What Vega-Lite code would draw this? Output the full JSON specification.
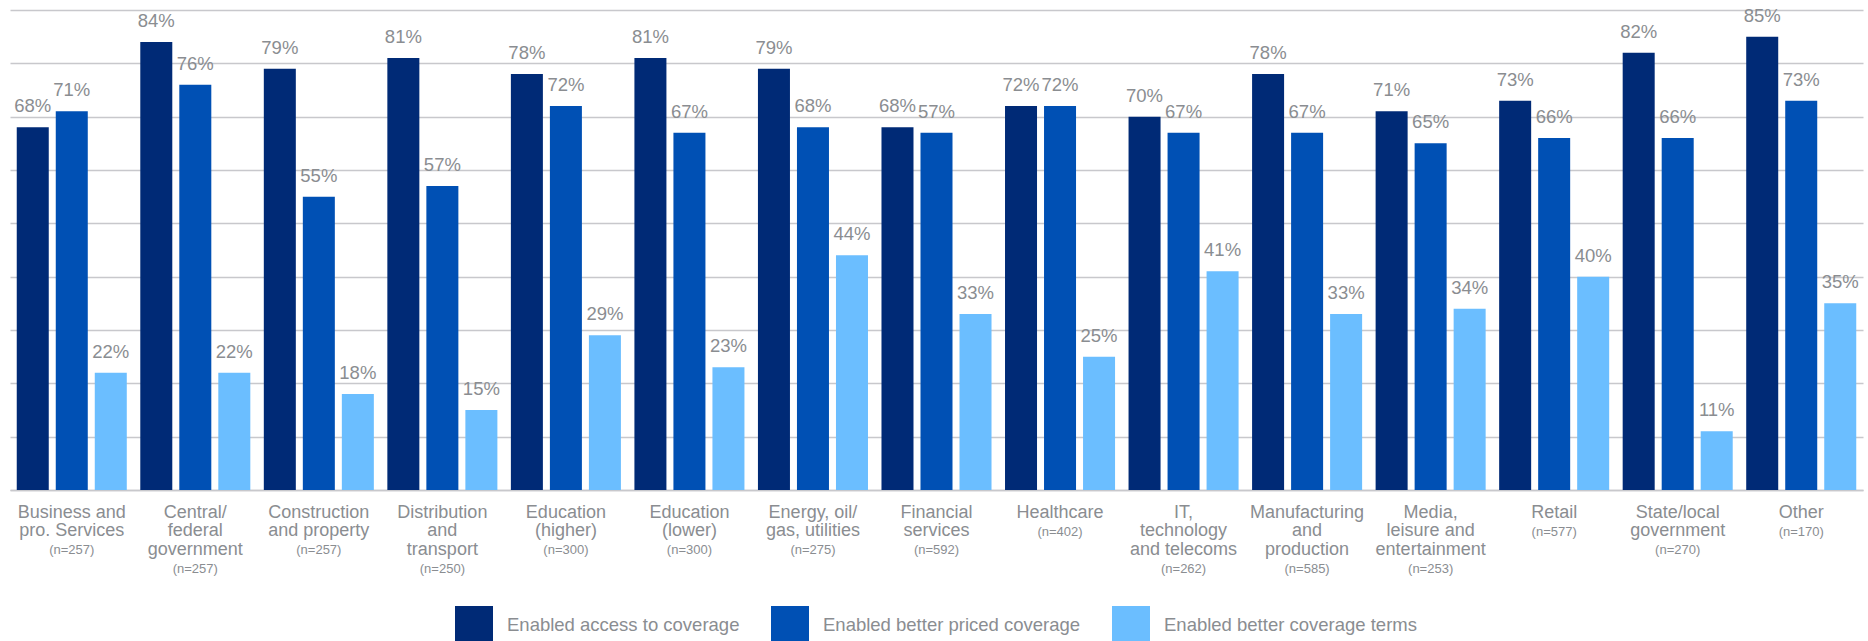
{
  "$schema": "https://vega.github.io/schema/vega-lite/v6.json",
  "width": 1853,
  "height": 480,
  "autosize": {"type": "none"},
  "padding": {"left": 10, "top": 10, "right": 5, "bottom": 151},
  "background": "white",
  "config": {
    "view": {"stroke": null},
    "font": "Liberation Sans",
    "legend": {
      "orient": "none",
      "legendX": 445,
      "legendY": 596,
      "direction": "horizontal",
      "padding": 0,
      "symbolType": "square",
      "symbolSize": 1444,
      "symbolStrokeWidth": 0,
      "symbolOpacity": 1,
      "labelFontSize": 18.5,
      "labelColor": "#8a8d91",
      "labelOffset": 14,
      "columnPadding": 31,
      "labelLimit": 400
    }
  },
  "data": {
    "values": [
      {"industry": "Business and|pro. Services|(n=257)", "series": "Enabled access to coverage", "value": 68, "label": "68%"},
      {"industry": "Business and|pro. Services|(n=257)", "series": "Enabled better priced coverage", "value": 71, "label": "71%"},
      {"industry": "Business and|pro. Services|(n=257)", "series": "Enabled better coverage terms", "value": 22, "label": "22%"},
      {"industry": "Central/|federal|government|(n=257)", "series": "Enabled access to coverage", "value": 84, "label": "84%"},
      {"industry": "Central/|federal|government|(n=257)", "series": "Enabled better priced coverage", "value": 76, "label": "76%"},
      {"industry": "Central/|federal|government|(n=257)", "series": "Enabled better coverage terms", "value": 22, "label": "22%"},
      {"industry": "Construction|and property|(n=257)", "series": "Enabled access to coverage", "value": 79, "label": "79%"},
      {"industry": "Construction|and property|(n=257)", "series": "Enabled better priced coverage", "value": 55, "label": "55%"},
      {"industry": "Construction|and property|(n=257)", "series": "Enabled better coverage terms", "value": 18, "label": "18%"},
      {"industry": "Distribution|and|transport|(n=250)", "series": "Enabled access to coverage", "value": 81, "label": "81%"},
      {"industry": "Distribution|and|transport|(n=250)", "series": "Enabled better priced coverage", "value": 57, "label": "57%"},
      {"industry": "Distribution|and|transport|(n=250)", "series": "Enabled better coverage terms", "value": 15, "label": "15%"},
      {"industry": "Education|(higher)|(n=300)", "series": "Enabled access to coverage", "value": 78, "label": "78%"},
      {"industry": "Education|(higher)|(n=300)", "series": "Enabled better priced coverage", "value": 72, "label": "72%"},
      {"industry": "Education|(higher)|(n=300)", "series": "Enabled better coverage terms", "value": 29, "label": "29%"},
      {"industry": "Education|(lower)|(n=300)", "series": "Enabled access to coverage", "value": 81, "label": "81%"},
      {"industry": "Education|(lower)|(n=300)", "series": "Enabled better priced coverage", "value": 67, "label": "67%"},
      {"industry": "Education|(lower)|(n=300)", "series": "Enabled better coverage terms", "value": 23, "label": "23%"},
      {"industry": "Energy, oil/|gas, utilities|(n=275)", "series": "Enabled access to coverage", "value": 79, "label": "79%"},
      {"industry": "Energy, oil/|gas, utilities|(n=275)", "series": "Enabled better priced coverage", "value": 68, "label": "68%"},
      {"industry": "Energy, oil/|gas, utilities|(n=275)", "series": "Enabled better coverage terms", "value": 44, "label": "44%"},
      {"industry": "Financial|services|(n=592)", "series": "Enabled access to coverage", "value": 68, "label": "68%"},
      {"industry": "Financial|services|(n=592)", "series": "Enabled better priced coverage", "value": 67, "label": "57%"},
      {"industry": "Financial|services|(n=592)", "series": "Enabled better coverage terms", "value": 33, "label": "33%"},
      {"industry": "Healthcare|(n=402)", "series": "Enabled access to coverage", "value": 72, "label": "72%"},
      {"industry": "Healthcare|(n=402)", "series": "Enabled better priced coverage", "value": 72, "label": "72%"},
      {"industry": "Healthcare|(n=402)", "series": "Enabled better coverage terms", "value": 25, "label": "25%"},
      {"industry": "IT,|technology|and telecoms|(n=262)", "series": "Enabled access to coverage", "value": 70, "label": "70%"},
      {"industry": "IT,|technology|and telecoms|(n=262)", "series": "Enabled better priced coverage", "value": 67, "label": "67%"},
      {"industry": "IT,|technology|and telecoms|(n=262)", "series": "Enabled better coverage terms", "value": 41, "label": "41%"},
      {"industry": "Manufacturing|and|production|(n=585)", "series": "Enabled access to coverage", "value": 78, "label": "78%"},
      {"industry": "Manufacturing|and|production|(n=585)", "series": "Enabled better priced coverage", "value": 67, "label": "67%"},
      {"industry": "Manufacturing|and|production|(n=585)", "series": "Enabled better coverage terms", "value": 33, "label": "33%"},
      {"industry": "Media,|leisure and|entertainment|(n=253)", "series": "Enabled access to coverage", "value": 71, "label": "71%"},
      {"industry": "Media,|leisure and|entertainment|(n=253)", "series": "Enabled better priced coverage", "value": 65, "label": "65%"},
      {"industry": "Media,|leisure and|entertainment|(n=253)", "series": "Enabled better coverage terms", "value": 34, "label": "34%"},
      {"industry": "Retail|(n=577)", "series": "Enabled access to coverage", "value": 73, "label": "73%"},
      {"industry": "Retail|(n=577)", "series": "Enabled better priced coverage", "value": 66, "label": "66%"},
      {"industry": "Retail|(n=577)", "series": "Enabled better coverage terms", "value": 40, "label": "40%"},
      {"industry": "State/local|government|(n=270)", "series": "Enabled access to coverage", "value": 82, "label": "82%"},
      {"industry": "State/local|government|(n=270)", "series": "Enabled better priced coverage", "value": 66, "label": "66%"},
      {"industry": "State/local|government|(n=270)", "series": "Enabled better coverage terms", "value": 11, "label": "11%"},
      {"industry": "Other|(n=170)", "series": "Enabled access to coverage", "value": 85, "label": "85%"},
      {"industry": "Other|(n=170)", "series": "Enabled better priced coverage", "value": 73, "label": "73%"},
      {"industry": "Other|(n=170)", "series": "Enabled better coverage terms", "value": 35, "label": "35%"}
    ]
  },
  "encoding": {
    "xOffset": {
      "field": "series",
      "type": "nominal",
      "sort": ["Enabled access to coverage", "Enabled better priced coverage", "Enabled better coverage terms"],
      "scale": {"paddingInner": 0.1795, "paddingOuter": 0.173}
    },
    "y": {
      "field": "value",
      "type": "quantitative",
      "scale": {"domain": [0, 90], "nice": false},
      "axis": {
        "title": null,
        "labels": false,
        "ticks": false,
        "domain": false,
        "grid": true,
        "values": [0, 10, 20, 30, 40, 50, 60, 70, 80, 90],
        "gridColor": "#c8c8cc",
        "gridWidth": 1.5
      }
    }
  },
  "layer": [
    {
      "mark": {"type": "bar"},
      "encoding": {
        "x": {
          "field": "industry",
          "type": "nominal",
          "sort": null,
          "scale": {"paddingInner": 0, "paddingOuter": 0},
          "axis": {
            "title": null,
            "orient": "bottom",
            "labelAngle": 0,
            "ticks": false,
            "tickSize": 0,
            "grid": false,
            "domain": true,
            "domainColor": "#c8c8cc",
            "domainWidth": 1.5,
            "labelFontSize": 18,
            "labelLineHeight": 18.5,
            "labelColor": "#8a8d91",
            "labelPadding": 13,
            "labelOverlap": false,
            "labelLimit": 300,
            "labelExpr": "slice(split(datum.label, '|'), 0, -1)"
          }
        },
        "color": {
          "field": "series",
          "type": "nominal",
          "title": null,
          "sort": ["Enabled access to coverage", "Enabled better priced coverage", "Enabled better coverage terms"],
          "scale": {
            "domain": ["Enabled access to coverage", "Enabled better priced coverage", "Enabled better coverage terms"],
            "range": ["#002a76", "#0050b4", "#6bbeff"]
          }
        }
      }
    },
    {
      "mark": {"type": "text", "baseline": "alphabetic", "align": "center", "dy": -15, "fontSize": 18.5, "color": "#8a8d91"},
      "encoding": {
        "x": {
          "field": "industry",
          "type": "nominal",
          "sort": null,
          "scale": {"paddingInner": 0, "paddingOuter": 0},
          "axis": {
            "title": null,
            "orient": "bottom",
            "labelAngle": 0,
            "ticks": false,
            "tickSize": 0,
            "grid": false,
            "domain": false,
            "labelFontSize": 13,
            "labelColor": "#8a8d91",
            "labelPadding": {
              "condition": [
                {"test": "length(split(datum.label, '|')) == 2", "value": 35},
                {"test": "length(split(datum.label, '|')) == 3", "value": 53.5}
              ],
              "value": 72
            },
            "labelOverlap": false,
            "labelLimit": 300,
            "labelExpr": "peek(split(datum.label, '|'))"
          }
        },
        "text": {"field": "label", "type": "nominal"}
      }
    }
  ],
  "resolve": {"axis": {"x": "independent"}}
}
